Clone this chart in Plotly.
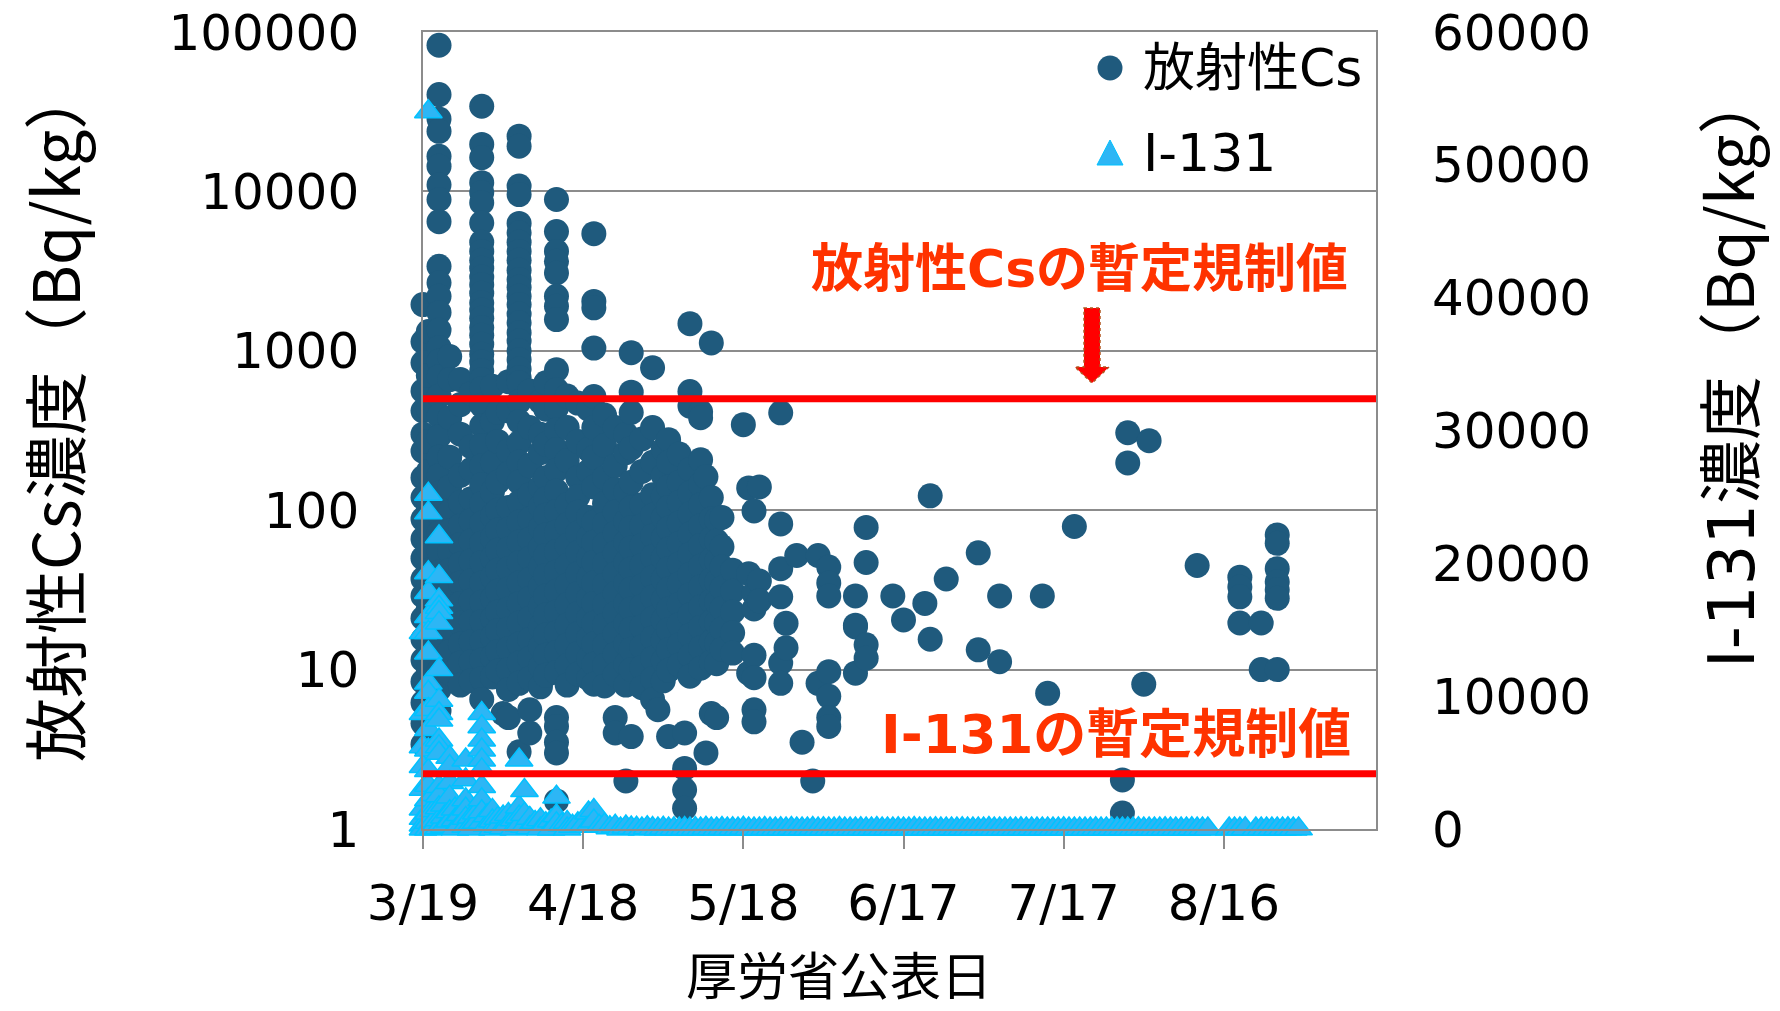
import plotly.graph_objects as go

YEAR = 2011

# --- Radioactive cesium (Bq/kg), grouped by MHLW publication date ---------
CS_DATES = [
    "3/19", "3/20", "3/22", "3/24", "3/26", "3/28", "3/30", "4/1", "4/2", "4/3",
    "4/4", "4/6", "4/8", "4/10", "4/11", "4/13", "4/15", "4/17", "4/19", "4/20",
    "4/22", "4/24", "4/26", "4/27", "4/29", "5/1", "5/2", "5/3", "5/4", "5/6",
    "5/7", "5/8", "5/10", "5/11", "5/12", "5/13", "5/14", "5/16", "5/18", "5/19",
    "5/20", "5/21", "5/25", "5/26", "5/28", "5/29", "5/31", "6/1", "6/3", "6/8",
    "6/10", "6/15", "6/17", "6/21", "6/22", "6/25", "7/1", "7/5", "7/13", "7/14",
    "7/19", "7/28", "7/29", "8/1", "8/2", "8/11", "8/19", "8/23", "8/26",
]
CS_VALUES = [
    [1950, 1140, 840, 560, 420, 300, 235, 160, 120, 88, 66, 50, 37, 29, 21, 15.5, 11.5, 8.4, 6.2, 4.6, 3.4],
    [1320, 700, 430, 270, 175, 130, 104, 76, 57, 42, 33, 24, 18, 13.5, 10, 7.3, 5.2],
    [82600, 40500, 28500, 23800, 16600, 14400, 11000, 8900, 6460, 3390, 2670, 2200, 1740, 1350, 1050, 860, 690, 520, 390, 290, 215, 165, 128, 95, 72, 55, 41, 31, 23, 17.5, 13, 9.8, 7.5, 5.5],
    [920, 660, 380, 215, 140, 97, 74, 55, 42, 31, 23.5, 17.5, 13, 9.5],
    [660, 460, 300, 165, 112, 80, 61, 46, 35, 26, 19.5, 14.5, 11, 8],
    [540, 250, 180, 118, 86, 64, 48, 36, 27, 20, 15, 11.2, 8.5],
    [34200, 19700, 16300, 11350, 9840, 8500, 6340, 4800, 4200, 3700, 3300, 2900, 2600, 2300, 2000, 1800, 1600, 1400, 1250, 1100, 950, 850, 750, 660, 580, 455, 340, 255, 190, 145, 110, 83, 62, 47, 35, 26.5, 20, 15, 11.5, 8.8, 6.5],
    [600, 360, 200, 130, 92, 67, 50, 38, 28, 21, 16, 12, 9],
    [410, 270, 150, 100, 75, 56, 42, 31, 23, 17.5, 13, 9.8],
    [5.3],
    [640, 420, 235, 170, 104, 76, 57, 43, 32, 24, 18, 13.5, 10, 7.5, 5.0],
    [22200, 19200, 10800, 9550, 6300, 5500, 4800, 4200, 3700, 3200, 2800, 2500, 2200, 1950, 1700, 1500, 1300, 1150, 1000, 880, 770, 680, 630, 480, 360, 265, 200, 150, 112, 84, 63, 47, 35, 26, 19.5, 14.5, 11, 8.2, 3.05],
    [560, 330, 190, 125, 88, 66, 50, 37, 28, 21, 15.5, 11.8, 8.8, 5.6, 4.0],
    [480, 300, 230, 140, 105, 78, 58, 44, 33, 25, 18.5, 14, 10.5, 7.8],
    [630, 430, 260, 160, 118, 93, 70, 52, 39, 29, 22, 16.5, 12.3, 9.2],
    [8900, 5600, 4200, 3640, 3080, 2200, 1900, 1570, 760, 570, 440, 320, 240, 178, 132, 98, 73, 55, 41, 31, 23, 17, 12.8, 9.6, 5.0, 4.4, 3.5, 3.0, 1.5],
    [520, 330, 205, 108, 81, 60, 45, 34, 25.5, 19, 14.2, 10.6, 8],
    [470, 270, 160, 122, 97, 72, 54, 40, 30, 22.5, 16.8, 12.6, 9.4],
    [430, 240, 175, 90, 67, 50, 37.5, 28, 21, 15.7, 11.7, 8.8],
    [5430, 2040, 1860, 1040, 517, 330, 215, 140, 84, 63, 47, 35, 26, 19.5, 14.5, 10.8, 8.1],
    [395, 255, 160, 110, 82, 61, 46, 34, 25.5, 19, 14.2, 10.6, 7.9],
    [330, 190, 135, 97, 72, 54, 40, 30, 22.5, 16.8, 12.5, 9.3, 5.0, 4.0],
    [300, 230, 130, 85, 63, 47, 35, 26, 19.5, 14.5, 10.8, 8, 2.0],
    [973, 550, 410, 245, 150, 104, 78, 58, 43, 32, 24, 18, 13.4, 10, 3.8],
    [280, 175, 108, 80, 60, 45, 33.5, 25, 18.6, 13.9, 10.3, 7.7],
    [783, 330, 200, 125, 93, 69, 51, 38, 28.5, 21, 15.8, 11.8, 8.8, 6.5],
    [5.6],
    [240, 165, 122, 90, 67, 50, 37, 27.5, 20.5, 15.3, 11.4, 8.5],
    [277, 200, 140, 104, 77, 57, 43, 32, 24, 17.8, 13.3, 9.9, 3.8],
    [225, 150, 112, 83, 62, 46, 34.5, 25.7, 19.2, 14.3, 10.7],
    [4.0, 2.4, 1.76, 1.35],
    [1480, 555, 450, 180, 128, 95, 71, 53, 39.5, 29.5, 22, 16.4, 12.2, 9.1],
    [414, 380, 207, 145, 108, 80, 60, 44.5, 33, 24.7, 18.4, 13.7, 10.2],
    [162, 3.0],
    [1120, 120, 88, 66, 49, 36.5, 27, 20, 15, 11.2, 5.3],
    [87, 64, 48, 35.5, 26.5, 19.7, 14.7, 10.9, 5.0],
    [90, 59, 44, 32.5, 24.2, 18, 13.4],
    [42, 31, 23, 17, 12.7],
    [344],
    [138, 40, 9.5],
    [99, 30, 24, 12.3, 8.9, 5.6, 4.7],
    [140, 36, 27],
    [408, 82, 43, 28.6, 11, 8.2],
    [19.5, 13.7],
    [52],
    [3.5],
    [2.0],
    [52, 8.2],
    [44, 35, 29, 9.7, 6.8, 5.0, 4.4],
    [29, 19, 18.5, 9.5],
    [78, 47, 14.3, 11.8],
    [29],
    [20.5],
    [26],
    [123, 15.5],
    [37],
    [54, 13.3],
    [29, 11.2],
    [29],
    [7.1],
    [79],
    [2.03, 1.26],
    [306, 198],
    [8.1],
    [273],
    [45],
    [38, 33, 28.6, 19.6],
    [19.6, 10],
    [70, 62, 43, 35.5, 31.7, 28, 10],
]

# --- I-131 (Bq/kg), grouped by MHLW publication date ----------------------
I131_DATES = [
    "3/19", "3/20", "3/21", "3/22", "3/23", "3/24", "3/25", "3/26", "3/27", "3/28",
    "3/29", "3/30", "3/31", "4/1", "4/2", "4/3", "4/4", "4/5", "4/6", "4/7",
    "4/8", "4/9", "4/10", "4/11", "4/12", "4/13", "4/14", "4/15", "4/16", "4/17",
    "4/18", "4/19", "4/20", "4/21", "4/22", "4/23", "4/24", "4/25", "4/26", "4/27",
    "4/28", "4/29", "4/30", "5/1", "5/2", "5/3", "5/4", "5/5", "5/6", "5/7",
    "5/8", "5/9", "5/10", "5/11", "5/12", "5/13", "5/14", "5/15", "5/16", "5/17",
    "5/18", "5/19", "5/20", "5/21", "5/22", "5/23", "5/24", "5/25", "5/26", "5/27",
    "5/28", "5/29", "5/30", "5/31", "6/1", "6/2", "6/3", "6/4", "6/5", "6/6",
    "6/7", "6/8", "6/9", "6/10", "6/11", "6/12", "6/13", "6/14", "6/15", "6/16",
    "6/17", "6/18", "6/19", "6/20", "6/21", "6/22", "6/23", "6/24", "6/25", "6/26",
    "6/27", "6/28", "6/29", "6/30", "7/1", "7/2", "7/3", "7/4", "7/5", "7/6",
    "7/7", "7/8", "7/9", "7/10", "7/11", "7/12", "7/13", "7/14", "7/15", "7/16",
    "7/17", "7/18", "7/19", "7/20", "7/21", "7/22", "7/23", "7/24", "7/25", "7/26",
    "7/27", "7/28", "7/29", "7/30", "7/31", "8/1", "8/2", "8/3", "8/4", "8/5",
    "8/6", "8/7", "8/8", "8/9", "8/10", "8/11", "8/12", "8/13", "8/17", "8/18",
    "8/19", "8/20", "8/22", "8/23", "8/24", "8/25", "8/26", "8/27", "8/28", "8/29",
    "8/30",
]
I131_VALUES = [
    [14800, 8700, 6200, 4700, 3000, 1500, 800, 300, 0],
    [54000, 25200, 23800, 19300, 17800, 16000, 14800, 13250, 11000, 10300, 9000, 7500, 5950, 4400, 3300, 2200, 1200, 500, 0],
    [2600, 1400, 600, 100],
    [22000, 19000, 17250, 16700, 16300, 15500, 12000, 9700, 8700, 8200, 6700, 6200, 5700, 3200, 2500, 1600, 700, 100],
    [1800, 900, 200],
    [5400, 4700, 3500, 2400, 1300, 600],
    [1500, 700, 0],
    [1100, 400],
    [5200, 3700, 2200, 1500, 800, 200],
    [900, 300, 0],
    [1200, 500], [8700, 7700, 6700, 5950, 5200, 4450, 3200, 2200, 1300, 500], [1000, 300], [1400, 600, 0], [800, 200],
    [900, 100], [1100, 400], [700, 0], [5200, 1650, 900, 300], [2900, 1100, 200],
    [800, 100], [500], [700, 0], [400], [600, 0], [2400, 1000, 400], [300], [500, 0], [200], [400],
    [300], [1200, 200], [1400, 600], [200], [300], [100], [200], [0], [150], [80],
    [60], [0], [100], [30], [0], [50], [0], [20], [0], [40],
    [0], [30], [0], [60], [10], [0], [40], [0], [20], [0],
    [50], [0], [10], [0], [30], [0], [0], [20], [0], [40],
    [0], [10], [0], [30], [0], [20], [0], [0], [40], [0],
    [10], [0], [20], [0], [0], [30], [0], [10], [0], [20],
    [0], [0], [30], [0], [10], [0], [20], [0], [0], [10],
    [0], [20], [0], [0], [10], [0], [30], [0], [0], [10],
    [0], [0], [20], [0], [10], [0], [0], [10], [0], [0],
    [20], [0], [0], [10], [0], [0], [20], [0], [10], [0],
    [0], [10], [0], [0], [20], [0], [10], [0], [0], [20],
    [0], [10], [0], [0], [20], [0], [10], [0], [0], [10],
    [0], [20], [0], [10], [0], [0], [10], [0], [20], [0],
    [10],
]

CS_LIMIT = 500          # provisional limit for radioactive Cs (left axis)
I131_LIMIT_LINE = 4150  # level of the I-131 limit line on the right axis

X_TICKS = ["3/19", "4/18", "5/18", "6/17", "7/17", "8/16"]
X_START = "2011-03-19"
X_END = "2011-09-13 12:00"
LEFT_TICKS = [1, 10, 100, 1000, 10000, 100000]
RIGHT_TICKS = [0, 10000, 20000, 30000, 40000, 50000, 60000]


def iso(md):
    m, d = md.split("/")
    return f"{YEAR}-{int(m):02d}-{int(d):02d}"


cs_x = [iso(d) for d, vals in zip(CS_DATES, CS_VALUES) for _ in vals]
cs_y = [v for vals in CS_VALUES for v in vals]
i_x = [iso(d) for d, vals in zip(I131_DATES, I131_VALUES) for _ in vals]
i_y = [v for vals in I131_VALUES for v in vals]

CS_COLOR = "#1F5A7D"
I_FILL = "#2DB6F5"
I_EDGE = "#00C2FF"
RED = "#FF0000"
LABEL_RED = "#FF3300"
GRID = "#8C8C8C"

W, H = 1780, 1011
L, R, T, B = 423, 404, 32, 182
PW, PH = W - L - R, H - T - B


def fx(px):
    return (px - L) / PW


def fy(py):
    return (H - B - py) / PH


LATIN = "DejaVu Sans, Noto Sans CJK JP, sans-serif"
CJK = "Noto Sans CJK JP, sans-serif"

fig = go.Figure()

fig.add_trace(go.Scatter(
    x=cs_x, y=cs_y, mode="markers", name="放射性Cs",
    marker=dict(symbol="circle", size=25, color=CS_COLOR, line=dict(width=0)),
    cliponaxis=False, yaxis="y",
))
fig.add_trace(go.Scatter(
    x=[X_START, X_END], y=[CS_LIMIT, CS_LIMIT], mode="lines",
    line=dict(color=RED, width=7), yaxis="y", hoverinfo="skip",
))
fig.add_trace(go.Scatter(
    x=i_x, y=i_y, mode="markers", name="I-131",
    marker=dict(symbol="triangle-up", size=24, color=I_FILL,
                line=dict(color=I_EDGE, width=1.5)),
    cliponaxis=False, yaxis="y2",
))
fig.add_trace(go.Scatter(
    x=[X_START, X_END], y=[I131_LIMIT_LINE, I131_LIMIT_LINE], mode="lines",
    line=dict(color=RED, width=7), yaxis="y2", hoverinfo="skip",
))

fig.update_layout(
    width=W, height=H,
    margin=dict(l=L, r=R, t=T, b=B, pad=0, autoexpand=False),
    plot_bgcolor="white", paper_bgcolor="white",
    showlegend=False,
    xaxis=dict(
        type="date", range=[X_START, X_END], automargin=False,
        tickvals=[iso(t) for t in X_TICKS], ticktext=X_TICKS,
        ticks="outside", ticklen=18, tickwidth=1.5, tickcolor=GRID,
        showline=True, linecolor=GRID, linewidth=1.5, mirror=True,
        showgrid=False, zeroline=False,
        tickfont=dict(family=LATIN, size=50, color="black"),
        ticklabelstandoff=11,
    ),
    yaxis=dict(
        type="log", range=[0, 5], automargin=False,
        tickvals=LEFT_TICKS, ticktext=[str(t) for t in LEFT_TICKS],
        showgrid=True, gridcolor=GRID, gridwidth=1.5,
        showline=True, linecolor=GRID, linewidth=1.5, mirror=True,
        ticks="", zeroline=False,
        tickfont=dict(family=LATIN, size=50, color="black"),
        ticklabelstandoff=52,
    ),
    yaxis2=dict(
        overlaying="y", side="right", range=[0, 60000], automargin=False,
        tickvals=RIGHT_TICKS, ticktext=[str(t) for t in RIGHT_TICKS],
        showgrid=False, zeroline=False, showline=False, ticks="",
        tickfont=dict(family=LATIN, size=50, color="black"),
        ticklabelstandoff=55,
    ),
)

ann = [
    dict(x=fx(52), y=fy(414), text="放射性Cs濃度（Bq/kg）", textangle=-90,
         font=dict(family=CJK, size=64, color="black")),
    dict(x=fx(1726), y=fy(369),
         text="<span style='font-family:DejaVu Sans'>I-131</span>濃度（Bq/kg）",
         textangle=-90, font=dict(family=CJK, size=64, color="black")),
    dict(x=fx(839), y=fy(973), text="厚労省公表日",
         font=dict(family=CJK, size=51, color="black")),
    dict(x=fx(1079), y=fy(269), text="<b>放射性Csの暫定規制値</b>",
         font=dict(family=LATIN, size=52, color=LABEL_RED)),
    dict(x=fx(1116), y=fy(734), text="<b>I-131の暫定規制値</b>",
         font=dict(family=LATIN, size=53, color=LABEL_RED)),
    dict(x=fx(1141), y=fy(68), text="放射性Cs", xanchor="left",
         font=dict(family=LATIN, size=52, color="black")),
    dict(x=fx(1141), y=fy(153), text="I-131", xanchor="left",
         font=dict(family=LATIN, size=52, color="black")),
]
for a in ann:
    a.setdefault("xanchor", "center")
    a.update(xref="paper", yref="paper", yanchor="middle", showarrow=False)
fig.update_layout(annotations=ann)

shapes = [
    # legend symbols
    dict(type="circle", xref="paper", yref="paper", xsizemode="pixel", ysizemode="pixel",
         xanchor=fx(1110), yanchor=fy(68), x0=-12.5, x1=12.5, y0=-12.5, y1=12.5,
         fillcolor=CS_COLOR, line=dict(width=0)),
    dict(type="path", xref="paper", yref="paper", xsizemode="pixel", ysizemode="pixel",
         xanchor=fx(1110), yanchor=fy(153), path="M -13,-12 L 13,-12 L 0,13 Z",
         fillcolor=I_FILL, line=dict(color=I_EDGE, width=1)),
    # block arrow pointing at the Cs limit line
    dict(type="path", xref="paper", yref="paper", xsizemode="pixel", ysizemode="pixel",
         xanchor=fx(1092), yanchor=fy(345),
         path="M -8,37 L 8,37 L 8,-22 L 17,-22 L 0,-38 L -17,-22 L -8,-22 Z",
         fillcolor=RED, line=dict(color="#B0561E", width=1.5, dash="dot")),
]
fig.update_layout(shapes=shapes)

fig.write_html("out.html")
